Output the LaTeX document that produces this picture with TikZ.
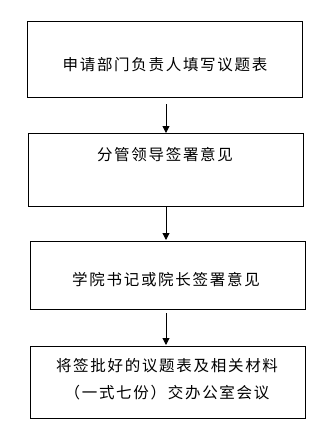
\documentclass[tikz,border=0pt]{standalone}
\usepackage{fontspec}
\newfontfamily\cjk[LetterSpace=11]{Noto Sans CJK SC}
\usetikzlibrary{arrows.meta}
\tikzset{
  box/.style={draw=black, line width=1pt, anchor=north west, inner sep=0pt, outer sep=0pt},
  lbl/.style={font=\cjk\fontsize{15.5}{27}\selectfont, align=center, inner sep=0pt},
  flow/.style={draw=black, line width=1pt, -{Triangle[length=7pt,width=7pt]}}
}
\begin{document}
\begin{tikzpicture}[x=1pt,y=-1pt]
\useasboundingbox (0,0) rectangle (333,442);
\fill[white] (0,0) rectangle (333,442);
\node[box, minimum width=275pt, minimum height=76pt] (b1) at (27,21) {};
\node[box, minimum width=275pt, minimum height=73pt] (b2) at (28,133) {};
\node[box, minimum width=275pt, minimum height=68pt] (b3) at (30,241) {};
\node[box, minimum width=275pt, minimum height=72pt] (b4) at (30,346) {};
\node[lbl] (t1) at (165,65) {申请部门负责人填写议题表};
\node[lbl] (t2) at (165,155) {分管领导签署意见};
\node[lbl] (t3) at (166,280) {学院书记或院长签署意见};
\node[lbl] (t4) at (167,379.5) {将签批好的议题表及相关材料\\（一式七份）交办公室会议};
\draw[flow, shorten <=7pt] (b1.south -| 166,0) -- (b2.north -| 166,0);
\draw[flow, shorten >=1pt] (b2.south -| 166,0) -- (b3.north -| 166,0);
\draw[flow, shorten <=4pt, shorten >=1pt] (b3.south -| 166,0) -- (b4.north -| 166,0);
\end{tikzpicture}
\end{document}
